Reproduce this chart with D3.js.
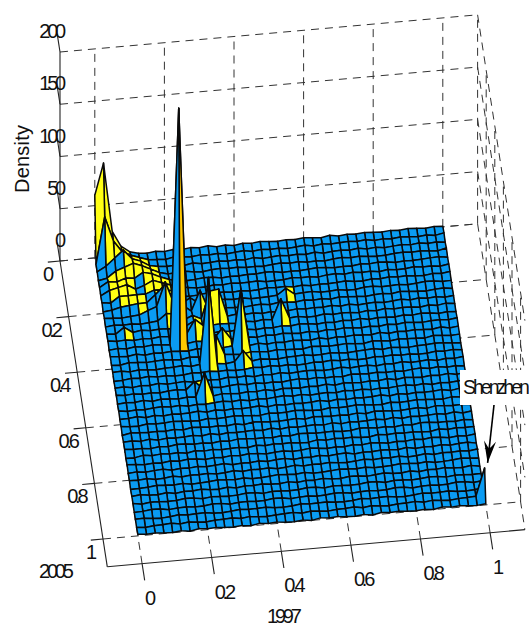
<!DOCTYPE html>
<html>
<head>
<meta charset="utf-8">
<script src="https://cdnjs.cloudflare.com/ajax/libs/d3/7.8.5/d3.min.js"></script>
<style>
  html, body { margin: 0; background: #fff; }
  text { font-family: "Liberation Sans", Arial, sans-serif; fill: #111; }
</style>
</head>
<body>
<svg id="vis-svg" width="529" height="628"></svg>
<script>
const xTicks = [0, 0.2, 0.4, 0.6, 0.8, 1],
      yTicks = [0, 0.2, 0.4, 0.6, 0.8, 1],
      zTicks = [0, 50, 100, 150, 200];
const xLabel = "1997", yLabel = "2005", zLabel = "Density", noteText = "Shenzhen";

const nCols = 40, nRows = 36;

// small wobble of the flat sheet, one digit per node
const ripple = [
  "31425304152637140526314253061425314253142",
  "04231542063152403615240361524636142531406",
  "52406135240613524160352416035261403526140",
  "13562041357204635120463512046352014635207",
  "40213650241365021436502136402153640213562",
  "26340512634015263450126340562634051263405",
  "51402635140263514026351402135104263510426",
  "03561240356124635012403561240056124036512",
  "42035164203516420351642635164203516420351",
  "15240361524036152403015243615024036152403",
  "30516243051624305162435016243051624305162",
  "62403152640315264031526403152604315264031",
  "14052631405261314052631405263140526314526",
  "53160425316042531604253160425316042531604",
  "20641352064135206415320641352064153206413",
  "46152034615230461520346125203461520346520",
  "01536240153624015362401536240153624015362",
  "35042613504216350426135402613504261350426",
  "62513046251304625130462513064251304625130",
  "14260531426053142605314260531426053142605",
  "50314625031462503146250341625031462503146",
  "23605142360514236051423605142360514236051",
  "41052364105236410523641052364105236410523",
  "06423150642315064213506423150642135064231",
  "35160423516042351604235160423516042351604",
  "52304165230416523041652340165230416523041",
  "10625340625134062534106253410625341062534",
  "64031526403152640351264031526403152640315",
  "25146032514603251460325146032541603251460",
  "43502614350261435026143520261435026143526",
  "01364250136425013642501364250136425013642",
  "36215043621504362150436215403621504362150",
  "50431265043126504312650431265043126504312",
  "12650341265034126503412650341265034126503",
  "45102634510263451026345102634510263451026",
  "20346152034615203461520346152034615203461",
  "63521406352140635214063521406352140635214"
];
// [col, row, density] nodes that stand out of the sheet
const peaks = [
  [0,0,60],[1,0,90],[2,0,24],[3,0,9],[4,0,3],
  [0,1,1],[1,1,46],[2,1,22],[3,1,11],[4,1,7],[5,1,4],
  [1,2,6],[2,2,13],[3,2,20],[4,2,11],[5,2,8],[6,2,3],
  [1,3,2],[2,3,8],[3,3,11],[4,3,14],[5,3,11],[6,3,7],[7,3,3],
  [1,4,6],[2,4,5],[3,4,8],[4,4,7],[5,4,12],[6,4,10],[7,4,6],[8,4,3],
  [1,5,5],[2,5,7],[3,5,9],[4,5,4],[5,5,7],[6,5,11],[7,5,8],[8,5,5],[9,5,2],
  [2,6,6],[3,6,6],[4,6,6],[5,6,6],[6,6,9],[7,6,9],[8,6,7],
  [2,7,3],[3,7,4],[4,7,5],[5,7,5],[6,7,12],[7,7,20],[8,7,8],
  [5,8,5],[6,8,8],[7,8,31],[8,8,9],[7,9,8],[8,9,7],
  [2,10,6],[8,12,226],
  [10,7,6],[9,8,7],[10,9,4],[10,10,6],[10,11,15],[11,11,8],[11,8,20],[12,9,26],[13,9,27],
  [13,12,12],[11,15,84],[12,14,21],[15,13,55],[15,15,11],
  [10,19,23],[9,18,8],
  [21,7,7],[20,10,20],
  [40,35,28]
];
// faces the slope rule gets wrong: [col, row]
const yellowFaces = [[0,0],[1,4],[2,5],[3,5],[2,6],[10,10],[2,10],[7,9]],
      blueFaces = [[4,4],[4,5],[0,4],[0,3]];

const margin = {left: 60, top: 261},
      xDir = {dx: 348, dy: -31},
      yDir = {dx: 43, dy: 278};

const svg = d3.select("#vis-svg");

const xs = d3.scaleLinear().domain([0, 1]).range([0, 1]),
      zScale = d3.scaleLinear().domain([0, 200]).range([0, -209]);

// orthographic view: x and y are sheared on to the floor, z goes straight up
function project(x, y, z) {
    const px = xs(x + 0.1), py = xs(y);
    return [margin.left + px * xDir.dx + py * yDir.dx,
            margin.top + px * xDir.dy + py * yDir.dy + zScale(z)];
}
const line3 = d3.line();

function segment(g, a, b) {
    return g.append("path").attr("d", line3([project(...a), project(...b)]));
}

// Dashed grid on floor and the two back walls
const grid = svg.append("g")
    .attr("fill", "none")
    .attr("stroke", "#333")
    .attr("stroke-width", 1)
    .attr("stroke-dasharray", "8,6");

xTicks.forEach(x => {
    segment(grid, [x, 1.1, 0], [x, 0, 0]);
    segment(grid, [x, 0, 0], [x, 0, 200]);
});
yTicks.forEach(y => {
    segment(grid, [-0.1, y, 0], [1.1, y, 0]);
    segment(grid, [1.1, y, 0], [1.1, y, 200]);
});
zTicks.forEach(z => {
    segment(grid, [-0.1, 0, z], [1.1, 0, z]);
    segment(grid, [1.1, 0, z], [1.1, 1.1, z]);
});

// Axis lines and ticks
const axes = svg.append("g")
    .attr("fill", "none")
    .attr("stroke", "#222")
    .attr("stroke-width", 1.1);

segment(axes, [-0.1, 0, 0], [-0.1, 0, 200]);
segment(axes, [-0.1, 0, 0], [-0.1, 1.1, 0]);
segment(axes, [-0.1, 1.1, 0], [1.1, 1.1, 0]);
xTicks.forEach(x => segment(axes, [x, 1.1, 0], [x, 1.16, 0]));
yTicks.forEach(y => segment(axes, [-0.1, y, 0], [-0.135, y, 0]));
zTicks.forEach(z => segment(axes, [-0.1, 0, z], [-0.1, -0.065, z]));

// Build the density matrix
const density = ripple.map(row => row.split("").map(d => +d * 0.28));
peaks.forEach(p => { density[p[1]][p[0]] = p[2]; });

const colX = d3.scaleLinear().domain([0, nCols]).range([0, 1]),
      rowY = d3.scaleLinear().domain([0, nRows]).range([0, 1]);

const blue = "#0a9bf2", yellow = "#ffff14", orange = "#ffc800";

// colour follows the slope along x, raised ground stays yellow unless it climbs hard
const slopeColor = d3.scaleThreshold()
    .domain([-90, -2.6, 5])
    .range([orange, yellow, blue, blue]);

const has = (list, d) => list.some(f => f[0] === d.c && f[1] === d.r);

function faceFill(d) {
    if (has(yellowFaces, d)) return yellow;
    if (has(blueFaces, d)) return blue;
    const a = density[d.r][d.c], b = density[d.r][d.c + 1],
          e = density[d.r + 1][d.c], f = density[d.r + 1][d.c + 1],
          slope = ((b - a) + (f - e)) / 2;
    if (d3.mean([a, b, e, f]) > 4 && slope < 5 && slope > -90) return yellow;
    return slopeColor(slope);
}

const quads = [];
for (let r = 0; r < nRows; r++) {
    for (let c = nCols - 1; c >= 0; c--) {
        quads.push({c: c, r: r});
    }
}

svg.append("g").selectAll("path")
    .data(quads)
  .enter().append("path")
    .attr("d", d => line3([
            [d.c, d.r], [d.c + 1, d.r], [d.c + 1, d.r + 1], [d.c, d.r + 1]
        ].map(n => project(colX(n[0]), rowY(n[1]), density[n[1]][n[0]]))) + "Z")
    .attr("fill", faceFill)
    .attr("stroke", "#0a0a0a")
    .attr("stroke-width", 1.5)
    .attr("stroke-linejoin", "round");

// Tick labels
const tickG = svg.append("g")
    .attr("font-size", 20)
    .attr("letter-spacing", -3.2);

tickG.selectAll(".zt").data(zTicks).enter().append("text")
    .attr("x", d => project(-0.1, 0, d)[0] + 3)
    .attr("y", d => project(-0.1, 0, d)[1] - 14)
    .attr("text-anchor", "end")
    .text(d => d);
tickG.selectAll(".yt").data(yTicks).enter().append("text")
    .attr("x", d => project(-0.1, d, 0)[0] - 9)
    .attr("y", d => project(-0.1, d, 0)[1] + 20)
    .attr("text-anchor", "end")
    .text(d => d);
tickG.selectAll(".xt").data(xTicks).enter().append("text")
    .attr("x", d => project(d, 1.1, 0)[0] + 3)
    .attr("y", d => project(d, 1.1, 0)[1] + 41)
    .text(d => d);

tickG.append("text").attr("x", 39).attr("y", 578).text(yLabel);
tickG.append("text").attr("x", 267).attr("y", 623).text(xLabel);

svg.append("text")
    .attr("transform", "translate(29,193) rotate(-90)")
    .attr("font-size", 20)
    .attr("letter-spacing", 0.2)
    .text(zLabel);

// Shenzhen note with its arrow
svg.append("rect")
    .attr("x", 460).attr("y", 370)
    .attr("width", 69).attr("height", 35)
    .attr("fill", "#fff");
svg.append("text")
    .attr("x", 463).attr("y", 394)
    .attr("font-size", 19.5)
    .attr("letter-spacing", -3)
    .text(noteText);

const tip = project(colX(nCols), rowY(nRows - 1), density[nRows - 1][nCols]);
const arrowFrom = [494, 405], arrowTo = [tip[0] + 3, tip[1] - 5];
const ang = Math.atan2(arrowTo[1] - arrowFrom[1], arrowTo[0] - arrowFrom[0]);
svg.append("path")
    .attr("d", line3([arrowFrom, arrowTo]))
    .attr("stroke", "#000").attr("stroke-width", 1.6).attr("fill", "none");
svg.append("path")
    .attr("d", line3([
        arrowTo,
        [arrowTo[0] - 22 * Math.cos(ang) - 6 * Math.sin(ang), arrowTo[1] - 22 * Math.sin(ang) + 6 * Math.cos(ang)],
        [arrowTo[0] - 14 * Math.cos(ang), arrowTo[1] - 14 * Math.sin(ang)],
        [arrowTo[0] - 22 * Math.cos(ang) + 6 * Math.sin(ang), arrowTo[1] - 22 * Math.sin(ang) - 6 * Math.cos(ang)]
    ]) + "Z")
    .attr("fill", "#000");
</script>
</body>
</html>
